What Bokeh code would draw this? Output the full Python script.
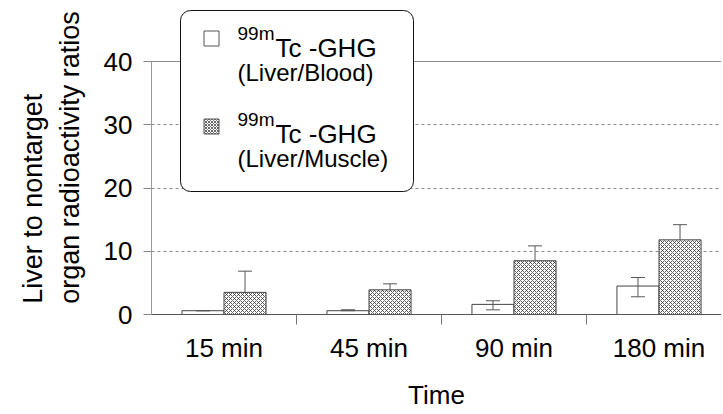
from bokeh.plotting import figure
from bokeh.models import (Range1d, FixedTicker, ColumnDataSource, Whisker, TeeHead,
                          BoxAnnotation, Label, Span, Title)
from bokeh.embed import file_html
from bokeh.resources import INLINE

# ---- data ----
categories = ["15 min", "45 min", "90 min", "180 min"]
blood = [0.6, 0.6, 1.6, 4.5]
blood_upper = [0.6, 0.75, 2.17, 5.85]
blood_lower = [0.6, 0.6, 0.74, 2.8]
muscle = [3.5, 3.9, 8.5, 11.8]
muscle_upper = [6.85, 4.85, 10.85, 14.2]
y_ticks = [0, 10, 20, 30, 40]
y_title_lines = ["Liver to nontarget", "organ radioactivity ratios"]

FONT = "Liberation Sans"
W, H = 721, 412
LEFT, BOTTOM_Y = 151, 314          # frame left edge / zero line, in pixels
PX_PER_CAT, PX_PER_UNIT = 145.0, 6.325

p = figure(width=W, height=H, output_backend="svg", toolbar_location=None,
           x_range=Range1d(0, (W - LEFT) / PX_PER_CAT),
           y_range=Range1d(0, BOTTOM_Y / PX_PER_UNIT),
           min_border_left=LEFT, min_border_right=0, min_border_top=0,
           min_border_bottom=H - BOTTOM_Y)
p.outline_line_color = None
p.background_fill_color = "white"

centers = [i + 0.5 for i in range(len(categories))]
bw = 0.29
src_b = ColumnDataSource(dict(x=[c - bw / 2 for c in centers], top=blood,
                              hi=blood_upper, lo=blood_lower))
src_m = ColumnDataSource(dict(x=[c + bw / 2 for c in centers], top=muscle,
                              hi=muscle_upper, lo=muscle))

# grid
p.xgrid.visible = False
p.ygrid.ticker = FixedTicker(ticks=[10, 20, 30])
p.ygrid.grid_line_color = "#8a8a8a"
p.ygrid.grid_line_dash = "3 3"
p.ygrid.grid_line_width = 1
p.add_layout(Span(location=40, dimension="width", line_color="#8a8a8a", line_width=1))

p.vbar(x="x", top="top", width=bw, source=src_b, fill_color="white",
       line_color="#444444", line_width=1)
p.vbar(x="x", top="top", width=bw, source=src_m, fill_color="white",
       line_color="#444444", line_width=1, hatch_pattern="diagonal_cross",
       hatch_scale=4, hatch_weight=0.8, hatch_color="#333333")

p.add_layout(Whisker(source=src_b, base="x", upper="hi", lower="lo",
                     line_color="#555555", level="overlay",
                     upper_head=TeeHead(size=14, line_color="#555555"),
                     lower_head=TeeHead(size=14, line_color="#555555")))
p.add_layout(Whisker(source=src_m, base="x", upper="hi", lower="lo",
                     line_color="#555555", level="overlay",
                     upper_head=TeeHead(size=14, line_color="#555555"),
                     lower_head=None))

# axes
xa = p.xaxis[0]
xa.ticker = FixedTicker(ticks=centers, minor_ticks=[1, 2, 3])
xa.major_label_overrides = {c: lab for c, lab in zip(centers, categories)}
xa.major_tick_out = 0
xa.major_tick_in = 0
xa.minor_tick_out = 10
xa.minor_tick_in = 0
xa.minor_tick_line_color = "#777777"
xa.axis_line_color = "#555555"
xa.major_label_standoff = 8
xa.major_label_text_font = FONT
xa.major_label_text_font_size = "26px"
xa.major_label_text_color = "black"
xa.axis_label = "Time"
xa.axis_label_text_font = FONT
xa.axis_label_text_font_size = "26px"
xa.axis_label_text_font_style = "normal"
xa.axis_label_text_color = "black"
xa.axis_label_standoff = 14

ya = p.yaxis[0]
ya.ticker = FixedTicker(ticks=y_ticks)
ya.bounds = (0, 40)
ya.axis_line_color = "#999999"
ya.major_tick_line_color = "#888888"
ya.major_tick_out = 8
ya.major_tick_in = 0
ya.minor_tick_line_color = None
ya.major_label_standoff = 11
ya.major_label_text_font = FONT
ya.major_label_text_font_size = "26px"
ya.major_label_text_color = "black"

# y-axis title: two lines, centred a little below the frame centre
p.add_layout(Title(text="\n".join(y_title_lines), align="center", offset=-25, standoff=31,
                   text_font=FONT, text_font_size="27px", text_font_style="normal",
                   text_color="black", text_line_height=1.22), "left")

# ---- legend (layout helpers: pixel positions -> data coords) ----
def dx(px):
    return (px - LEFT) / PX_PER_CAT

def dy(py):
    return (BOTTOM_Y - py) / PX_PER_UNIT

p.add_layout(BoxAnnotation(left=dx(180), right=dx(413), top=dy(10), bottom=dy(191),
                           fill_color="white", fill_alpha=1, line_color="#111111",
                           line_alpha=1, line_width=1, border_radius=10, level="overlay"))
p.add_layout(BoxAnnotation(left=dx(203.5), right=dx(218.5), top=dy(30.5), bottom=dy(45.5),
                           fill_color="white", fill_alpha=1, line_color="#555555",
                           line_alpha=1, line_width=1, level="overlay"))
p.add_layout(BoxAnnotation(left=dx(203.5), right=dx(218.5), top=dy(118.5), bottom=dy(133.5),
                           fill_color="white", fill_alpha=1, line_color="#555555",
                           line_alpha=1, line_width=1, hatch_pattern="diagonal_cross",
                           hatch_scale=3, hatch_weight=0.8, hatch_color="#444444",
                           hatch_alpha=1, level="overlay"))

legend_rows = [("(Liver/Blood)", 0), ("(Liver/Muscle)", 86)]
for txt, off in legend_rows:
    p.add_layout(Label(x=dx(237), y=dy(33 + off), text="99m", text_font=FONT,
                       text_font_size="19px", text_baseline="alphabetic",
                       text_color="black", level="overlay"))
    p.add_layout(Label(x=dx(275), y=dy(47 + off), text="Tc -GHG", text_font=FONT,
                       text_font_size="26px", text_baseline="alphabetic",
                       text_color="black", level="overlay"))
    p.add_layout(Label(x=dx(237), y=dy(72 + off), text=txt, text_font=FONT,
                       text_font_size="24px", text_baseline="middle",
                       text_color="black", level="overlay"))

open("out.html", "w").write(file_html(p, INLINE))
